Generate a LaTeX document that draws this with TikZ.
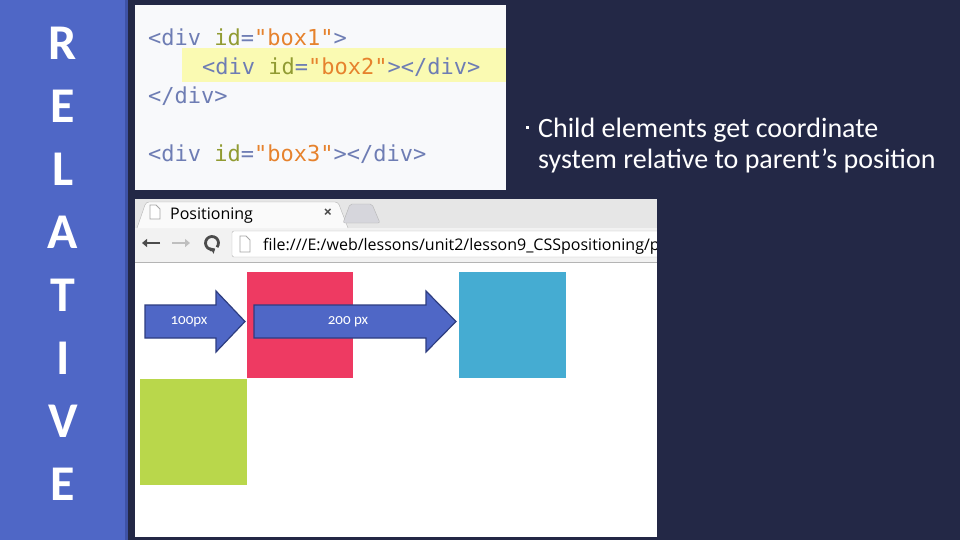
\documentclass[tikz,border=0pt]{standalone}
\usepackage{fontspec}
\setmainfont{Carlito}
\newfontfamily\codefont{DejaVu Sans Mono}
\newfontfamily\uifont{Open Sans}
\newfontfamily\labelfont[Numbers=OldStyle]{Carlito}
\usetikzlibrary{arrows.meta}

\definecolor{navy}{RGB}{35,40,70}
\definecolor{barblue}{RGB}{79,103,198}
\definecolor{baredge}{RGB}{62,82,165}
\definecolor{boxred}{RGB}{238,58,98}
\definecolor{boxcyan}{RGB}{69,172,210}
\definecolor{boxgreen}{RGB}{185,215,75}
\definecolor{arrowedge}{RGB}{46,61,128}
\definecolor{codebg}{RGB}{248,249,251}
\definecolor{hilite}{RGB}{250,250,178}
\definecolor{tagcol}{RGB}{110,125,180}
\definecolor{attrcol}{RGB}{145,155,50}
\definecolor{strcol}{RGB}{230,130,45}
\definecolor{tabbar}{RGB}{230,230,230}
\definecolor{toolbar}{RGB}{242,242,242}
\definecolor{uigray}{RGB}{180,180,180}

\newcommand{\tg}[1]{\textcolor{tagcol}{#1}}
\newcommand{\at}[1]{\textcolor{attrcol}{#1}}
\newcommand{\st}[1]{\textcolor{strcol}{#1}}

\begin{document}
\begin{tikzpicture}[x=1pt,y=-1pt]
    % Styles
    \tikzset{
      barletter/.style={anchor=base,text=white,font=\bfseries\fontsize{50}{50}\selectfont,inner sep=0pt},
      codeline/.style={anchor=base west,inner sep=0pt,font=\codefont\fontsize{22}{22}\selectfont},
      arrowbox/.style={fill=barblue,draw=arrowedge,line width=1.2pt,line join=miter},
      arrowlabel/.style={text=white,inner sep=0pt,font=\labelfont\fontsize{15}{15}\selectfont},
      uitext/.style={anchor=base west,inner sep=0pt,font=\uifont\fontsize{16}{16}\selectfont},
      bullettext/.style={anchor=base west,inner sep=0pt,text=white,font=\fontsize{28}{28}\selectfont},
      icon/.style={draw=gray!70,line width=0.8pt,fill=white}
    }
    % --- Background ---
    \fill[navy] (0,0) rectangle (960,540);
    \useasboundingbox (0,0) rectangle (960,540);

    % --- Left bar with letters ---
    \fill[barblue] (0,0) rectangle (125,540);
    \fill[baredge] (125,0) rectangle (128,540);
    \foreach \ch [count=\i] in {R,E,L,A,T,I,V,E}
      \node[barletter] (letter\i) at (63,{60+62.9*(\i-1)}) {\ch};

    % --- Code screenshot ---
    \fill[codebg] (135,5) rectangle (506,190);
    \fill[hilite] (182,48) rectangle (506,82);
    \node[codeline] (code1) at (148,46) {\tg{<div} \at{id}\tg{=}\st{"box1"}\tg{>}};
    \node[codeline] (code2) at (202,75) {\tg{<div} \at{id}\tg{=}\st{"box2"}\tg{></div>}};
    \node[codeline] (code3) at (148,104) {\tg{</div>}};
    \node[codeline] (code4) at (148,161) {\tg{<div} \at{id}\tg{=}\st{"box3"}\tg{></div>}};

    % --- Browser window ---
    \fill[tabbar] (135,199) rectangle (657,228);
    \fill[toolbar] (135,228) rectangle (657,263);
    \fill[white] (135,263) rectangle (657,537);
    \draw[uigray] (135,262.5) -- (657,262.5);
    % tabs
    \draw[uigray,fill=white!96!gray,rounded corners=3pt] (137,228) -- (146,202) -- (338,202) -- (348,228);
    \draw[uigray,fill=blue!8!gray!30,rounded corners=2pt] (343,223) -- (350,204) -- (372,204) -- (380,223) -- cycle;
    \draw[icon] (150,205) -- (156,205) -- (160,209) -- (160,219) -- (150,219) -- cycle;
    \node[uitext] (tabtitle) at (170,219) {Positioning};
    \node[uitext,anchor=center,text=black!70] (tabclose) at (328,213) {\fontsize{15}{15}\selectfont\bfseries ×};
    % navigation icons
    \draw[-{Triangle[width=8pt,length=5pt]},line width=2.2pt,black!70] (160,243) -- (142,243);
    \draw[-{Triangle[width=8pt,length=5pt]},line width=2.2pt,black!25] (172,243) -- (190,243);
    \draw[line width=2.8pt,black!70,-{Triangle[width=7pt,length=4pt]}] (212,243) ++(40:6.5) arc[start angle=40,end angle=-300,radius=6.5];
    % address field
    \draw[uigray,fill=white,rounded corners=2pt] (232,231) rectangle (670,257);
    \draw[icon] (240,236) -- (246,236) -- (250,240) -- (250,252) -- (240,252) -- cycle;
    \begin{scope}
      \clip (232,231) rectangle (657,257);
      \node[uitext] (address) at (263,250) {file:///E:/web/lessons/unit2/lesson9\_CSSpositioning/p};
    \end{scope}
    \fill[navy] (657,199) rectangle (672,262);

    % --- Page content: boxes ---
    \fill[boxred] (247,272) rectangle (353,378);
    \fill[boxcyan] (459,272) rectangle (566,378);
    \fill[boxgreen] (140,379) rectangle (247,485);

    % --- Offset arrows ---
    \draw[arrowbox] (145,305) -- (216,305) -- (216,291) -- (245,321.5) -- (216,352) -- (216,338) -- (145,338) -- cycle;
    \node[arrowlabel] (lab100) at (189,322) {100px};
    \draw[arrowbox] (254,305) -- (426,305) -- (426,291) -- (456,321.5) -- (426,352) -- (426,338) -- (254,338) -- cycle;
    \node[arrowlabel] (lab200) at (348,322) {200 px};

    % --- Bullet text ---
    \fill[white] (525.5,126.5) rectangle (528.5,129.5);
    \node[bullettext] (line1) at (538,138) {Child elements get coordinate};
    \node[bullettext] (line2) at (538,168) {system relative to parent’s position};
\end{tikzpicture}
\end{document}
